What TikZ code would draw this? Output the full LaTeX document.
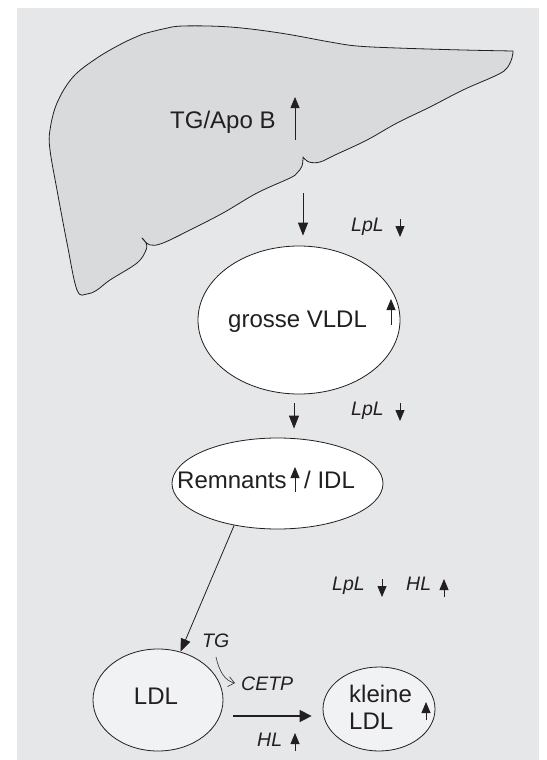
\documentclass[tikz,border=0pt]{standalone}
\usepackage{fontspec}
\setmainfont{Liberation Sans}
\usetikzlibrary{arrows.meta,shapes.geometric}
\definecolor{panel}{HTML}{E6E7E9}
\definecolor{liverfill}{HTML}{D9DADC}
\definecolor{ink}{HTML}{231F20}
\definecolor{paleblob}{HTML}{F1F2F4}
\tikzset{
  lab/.style={inner sep=0pt, anchor=base west, text=ink, font=\fontsize{24}{28}\selectfont},
  enz/.style={inner sep=0pt, anchor=base west, text=ink, font=\itshape\fontsize{19.5}{23}\selectfont},
  blob/.style={ellipse, draw=ink, line width=0.8pt, inner sep=0pt},
  flow/.style={draw=ink, line width=0.8pt, -{Triangle[length=13pt,width=10pt]}},
  bigflow/.style={draw=ink, line width=1.6pt, -{Triangle[length=12pt,width=12pt]}},
  ind/.style={draw=ink, line width=0.8pt, -{Triangle[length=11pt,width=9pt]}},
  swap/.style={draw=ink!85, line width=0.7pt, -{Straight Barb[length=6pt,width=10pt]}}
}
\begin{document}
\begin{tikzpicture}[x=1pt,y=-1pt]
\useasboundingbox (0,0) rectangle (546,760);
\fill[panel] (17,8) rectangle (539,760);

% liver outline
\draw[fill=liverfill, draw=ink, line width=0.8pt, line join=round]
  plot[smooth, tension=0.6] coordinates {(143,34) (163,29) (183,26) (230,27) (280,33) (330,42) (357,46) (397,48) (463,50) (513,51)}
  -- plot[smooth, tension=0.6] coordinates {(513,51) (512,58) (507,68) (497,75) (463,90) (430,107) (397,123) (367,140) (335,155) (320,162) (309,162) (303,157)}
  -- plot[smooth, tension=0.6] coordinates {(303,157) (302,166) (297,173) (290,178) (257,193) (223,213) (190,230) (163,243) (150,245) (142,238)}
  -- plot[smooth, tension=0.6] coordinates {(142,238) (146,243) (146,250) (137,263) (110,280) (97,290) (87,294) (77,290) (67,243) (57,190) (50,150) (50,130) (57,103) (73,77) (97,58) (123,43) (143,34)}
  -- cycle;

% lipoprotein particles
\node[blob, fill=white, minimum width=202pt, minimum height=148pt] (vldl) at (299,320) {};
\node[blob, fill=white, minimum width=211pt, minimum height=91pt] (rem) at (277.5,483.5) {};
\node[blob, fill=paleblob, minimum width=130pt, minimum height=102pt] (ldl) at (158,700) {};
\node[blob, fill=paleblob, minimum width=112pt, minimum height=84pt] (kl) at (379,709) {};

% texts
\node[lab] (tgapo) at (170,128) {TG/Apo B};
\node[lab] (vldltxt) at (228,327) {grosse VLDL};
\node[lab] (remtxt) at (177,488) {Remnants};
\node[lab] (idltxt) at (304,488) {/ IDL};
\node[lab, anchor=base] (ldltxt) at (156,704) {LDL};
\node[lab] (kltxt1) at (349,702) {kleine};
\node[lab] (kltxt2) at (349,729) {LDL};

\node[enz] (lpl1) at (351,231) {LpL};
\node[enz] (lpl2) at (351,415) {LpL};
\node[enz] (lpl3) at (332,590) {LpL};
\node[enz] (hl1) at (406,590) {HL};
\node[enz] (tg) at (202,647) {TG};
\node[enz] (cetp) at (241,690) {CETP};
\node[enz] (hl2) at (257,746) {HL};

% metabolic flow
\coordinate (liverout) at (303,193);
\coordinate (ldlout) at ([yshift=-16pt]ldl.east);
\coordinate (vldlout) at ([xshift=-5pt]vldl.south);
\draw[flow, shorten >=10pt] (liverout) -- (liverout |- vldl.north);
\draw[flow, shorten <=9pt, shorten >=9pt] (vldlout) -- (vldlout |- rem.north);
\draw[flow] (rem.224) -- (ldl.65);
\draw[bigflow, shorten <=10pt, shorten >=11pt] (ldlout) -- (kl.west |- ldlout);
\coordinate (tgout) at (216,657);
\coordinate (cetpin) at (235,683);
\draw[swap] (tgout) .. controls (219,671) and (225,681) .. (cetpin);

% up / down indicators
\draw[ind] (295,140) -- (295,97);
\draw[ind] (400,219) -- (400,237);
\draw[ind] (391,325) -- (391,299);
\draw[ind] (400,403) -- (400,421);
\draw[ind] (295,492) -- (295,467);
\draw[ind] (382,579) -- (382,597);
\draw[ind] (444,597) -- (444,579);
\draw[ind] (426,720) -- (426,702);
\draw[ind] (295,751) -- (295,733);
\end{tikzpicture}
\end{document}
